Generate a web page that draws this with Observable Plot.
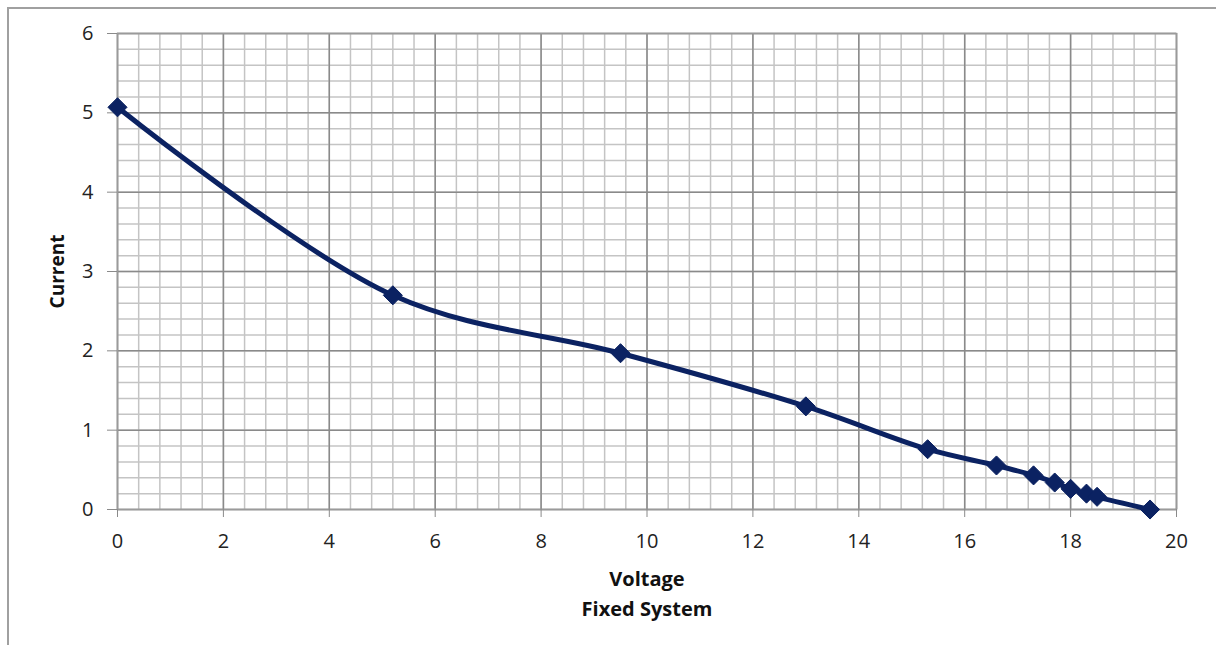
<!DOCTYPE html>
<html>
<head>
<meta charset="utf-8">
<script src="https://cdn.jsdelivr.net/npm/d3@7"></script>
<script src="https://cdn.jsdelivr.net/npm/@observablehq/plot@0.6"></script>
<style>
  html, body { margin: 0; padding: 0; background: white; overflow: hidden; }
  #wrap { position: relative; width: 1216px; height: 645px; }
  #border { position: absolute; left: 7px; top: 7px; right: 0; bottom: 0; border-left: 2px solid #a0a0a0; border-top: 2px solid #a0a0a0; }
  #chart { position: absolute; left: 0; top: 0; }
</style>
</head>
<body>
<div id="wrap"><div id="border"></div><div id="chart"></div></div>
<script>
const voltage = [0, 5.2, 9.5, 13.0, 15.3, 16.6, 17.3, 17.7, 18.0, 18.3, 18.5, 19.5];
const current = [5.07, 2.70, 1.97, 1.30, 0.76, 0.555, 0.43, 0.34, 0.26, 0.20, 0.16, 0.0];
const xTicks = [0, 2, 4, 6, 8, 10, 12, 14, 16, 18, 20];
const yTicks = [0, 1, 2, 3, 4, 5, 6];
const xMinor = d3.range(0, 20.001, 0.4);
const yMinor = d3.range(0, 6.001, 0.2);
const xTitle = "Voltage\nFixed System";
const yTitle = "Current";

const data = voltage.map((v, i) => ({voltage: v, current: current[i]}));
const navy = "#0b2262";
const font = "'Open Sans', Lato, sans-serif";

const chart = Plot.plot({
  width: 1216,
  height: 645,
  marginLeft: 117,
  marginRight: 40,
  marginTop: 33,
  marginBottom: 136,
  style: {background: "transparent", fontFamily: font, fontSize: "20px", color: "#222"},
  x: {domain: [0, 20], label: null},
  y: {domain: [0, 6], label: null},
  marks: [
    Plot.ruleX(xMinor, {stroke: "#c4c4c4", strokeWidth: 1.5, strokeOpacity: 1}),
    Plot.ruleY(yMinor, {stroke: "#c4c4c4", strokeWidth: 1.5, strokeOpacity: 1}),
    Plot.ruleX(xTicks, {stroke: "#8a8a8a", strokeWidth: 1.5, strokeOpacity: 1}),
    Plot.ruleY(yTicks, {stroke: "#8a8a8a", strokeWidth: 1.5, strokeOpacity: 1}),
    Plot.frame({stroke: "#9a9a9a", strokeWidth: 1.5}),
    Plot.axisX({ticks: xTicks, tickFormat: d3.format("d"), tickSize: 8, tickPadding: 16, stroke: "#8a8a8a", strokeOpacity: 1, fill: "#222", fontSize: 20, label: null}),
    Plot.axisY({ticks: yTicks, tickFormat: d3.format("d"), tickSize: 10, tickPadding: 14, stroke: "#8a8a8a", strokeOpacity: 1, fill: "#222", fontSize: 20, label: null}),
    Plot.line(data, {x: "voltage", y: "current", stroke: navy, strokeWidth: 5, curve: "catmull-rom"}),
    Plot.dot(data, {x: "voltage", y: "current", symbol: "diamond2", r: 8.6, fill: navy, stroke: navy, strokeWidth: 1}),
    Plot.text([xTitle], {frameAnchor: "bottom", dy: 55, lineAnchor: "top", lineHeight: 1.5, fontWeight: "bold", fontSize: 20, fill: "#111"}),
    Plot.text([yTitle], {frameAnchor: "left", dx: -60, rotate: -90, textAnchor: "middle", fontWeight: "bold", fontSize: 19, fill: "#111"})
  ]
});
document.getElementById("chart").appendChild(chart);
</script>
</body>
</html>
